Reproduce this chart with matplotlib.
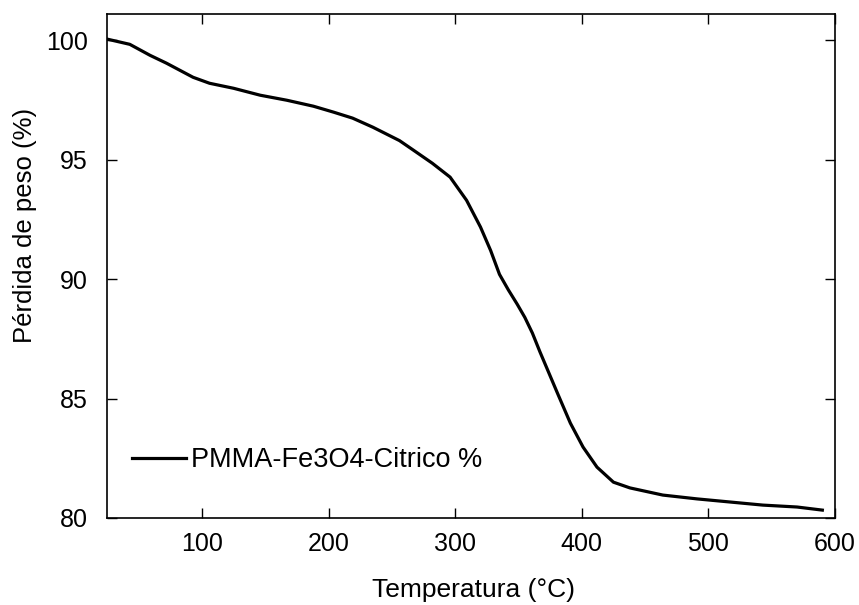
import matplotlib
matplotlib.use("Agg")
import matplotlib.pyplot as plt
import numpy as np

temperature = [25, 43, 59, 72, 93, 106, 125, 146, 167, 188, 204, 219, 235, 256,
               267, 282, 296, 309, 320, 328, 335, 342, 349, 355, 361, 367, 375,
               381, 391, 401, 412, 425, 438, 464, 491, 517, 543, 570, 590]
weight = [100.05, 99.83, 99.37, 99.04, 98.45, 98.2, 97.99, 97.7, 97.49, 97.24,
          96.99, 96.74, 96.36, 95.8, 95.4, 94.85, 94.27, 93.3, 92.18, 91.2,
          90.2, 89.55, 88.95, 88.4, 87.74, 86.95, 85.95, 85.2, 83.97, 82.97,
          82.13, 81.5, 81.26, 80.96, 80.8, 80.67, 80.54, 80.46, 80.33]
series_label = "PMMA-Fe3O4-Citrico %"
x_ticks = [100, 200, 300, 400, 500, 600]
y_ticks = [80, 85, 90, 95, 100]

plt.rcParams['font.family'] = ['Liberation Sans', 'DejaVu Sans']

fig = plt.figure(figsize=(8.59, 6.05), dpi=100)
W, H = 859, 605
ax = fig.add_axes([107 / W, 1 - 518 / H, (835 - 107) / W, (518 - 14) / H])

ax.plot(temperature, weight, color='black', lw=2.3, label=series_label)

ax.set_xlim(25, 600)
ax.set_ylim(80, 101.1)
ax.set_xticks(x_ticks)
ax.set_yticks(y_ticks)
ax.tick_params(direction='in', length=7, width=1, top=True, right=True,
               labelsize=18)
ax.tick_params(axis='x', pad=10)
ax.tick_params(axis='y', pad=14)
for s in ax.spines.values():
    s.set_linewidth(1.2)

ax.set_xlabel("Temperatura (°C)", fontsize=19, va='center')
ax.xaxis.set_label_coords(0.503, -0.143)
ax.set_ylabel("Pérdida de peso (%)", fontsize=18.5, va='center')
ax.yaxis.set_label_coords(-0.113, 0.58)

ax.legend(loc='center left', bbox_to_anchor=(0.034, 0.115), frameon=False,
          fontsize=19.5, handlelength=2.0, handletextpad=0.19,
          borderpad=0, borderaxespad=0)

fig.savefig("out.png", dpi=100)
